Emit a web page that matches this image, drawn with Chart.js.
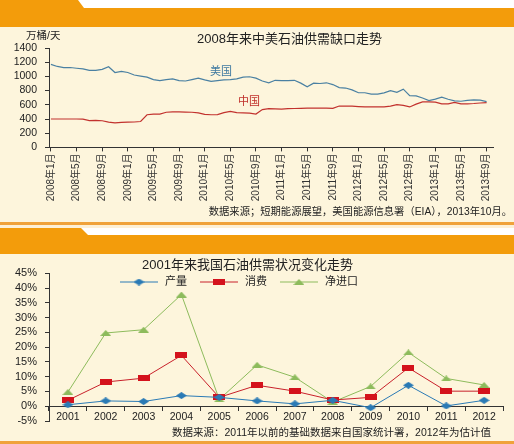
<!DOCTYPE html>
<html><head><meta charset="utf-8">
<script src="https://cdn.jsdelivr.net/npm/chart.js@4.4.0/dist/chart.umd.min.js"></script>
<style>
html,body{margin:0;padding:0;}
body{width:514px;height:444px;background:#fdf5dc;position:relative;overflow:hidden;font-family:"Liberation Sans","Noto Sans CJK SC",sans-serif;color:#222;}
.abs{position:absolute;}
.or{background:#f39c0b;}
.t{position:absolute;white-space:nowrap;line-height:1;}
</style></head><body>
<div class="abs" style="left:0;top:0;width:514px;height:8px;background:#fff"></div>
<div class="abs or" style="left:0;top:0;width:84px;height:8px;clip-path:polygon(0 0,78px 0,84px 8px,0 8px)"></div>
<div class="abs or" style="left:0;top:8px;width:514px;height:19px"></div>

<div class="abs or" style="left:0;top:222px;width:514px;height:3px;background:#f0a23a"></div>
<div class="abs" style="left:0;top:225px;width:514px;height:3px;background:#fdf0d6"></div>
<div class="abs" style="left:0;top:228px;width:514px;height:7px;background:#fff"></div>
<div class="abs or" style="left:0;top:228px;width:88px;height:7px;clip-path:polygon(0 0,81px 0,88px 7px,0 7px)"></div>
<div class="abs or" style="left:0;top:235px;width:514px;height:19px"></div>
<div class="abs" style="left:0;top:441px;width:514px;height:3px;background:#f0a23a"></div>

<div class="abs" style="left:0;top:27px;width:514px;height:195px"><canvas id="c1"></canvas></div>
<div class="abs" style="left:0;top:254px;width:514px;height:187px"><canvas id="c2"></canvas></div>

<div class="t" style="left:197px;top:32px;font-size:13px;">2008年来中美石油供需缺口走势</div>
<div class="t" style="left:26px;top:30px;font-size:10.5px;">万桶/天</div>
<div class="t" style="left:210px;top:66px;font-size:11px;color:#3f79a0;">美国</div>
<div class="t" style="left:238px;top:96px;font-size:11px;color:#c0302c;">中国</div>
<div class="t" style="right:2px;top:207px;font-size:10.3px;">数据来源；短期能源展望，美国能源信息署（EIA），2013年10月。</div>

<div class="t" style="left:142px;top:258px;font-size:13px;">2001年来我国石油供需状况变化走势</div>
<div class="t" style="left:172px;top:427px;font-size:10.5px;">数据来源：2011年以前的基础数据来自国家统计署，2012年为估计值</div>

<script>
// ---- Chart 1 data (monthly, 2008-01 .. 2013-09), 万桶/天
const monthTickLabels = ['2008年1月','2008年5月','2008年9月','2009年1月','2009年5月','2009年9月','2010年1月','2010年5月','2010年9月','2011年1月','2011年5月','2011年9月','2012年1月','2012年5月','2012年9月','2013年1月','2013年5月','2013年9月'];
const usGap = [1170,1140,1125,1125,1115,1105,1085,1085,1100,1135,1055,1070,1055,1020,1005,990,955,940,955,965,940,935,955,975,950,930,940,950,955,965,990,995,975,935,910,945,940,940,945,905,855,905,900,910,885,842,836,810,770,770,750,750,768,800,775,820,730,725,695,660,680,708,678,655,650,663,670,665,645];
const cnGap = [400,400,400,400,400,398,378,380,375,355,345,352,356,358,365,460,470,470,495,500,500,498,495,485,465,460,462,490,508,490,487,482,470,532,545,543,540,545,548,550,552,554,555,552,550,583,582,580,575,571,570,570,572,582,603,592,570,610,640,640,637,612,614,635,612,614,618,625,632];

// ---- Chart 2 data (annual growth, %)
const years = ['2001','2002','2003','2004','2005','2006','2007','2008','2009','2010','2011','2012'];
const production = [0.5,1.8,1.6,3.6,3.0,1.8,0.8,2.0,-0.5,7.1,0.1,2.0];
const consumption = [2.0,8.2,9.5,17.2,3.0,7.1,5.1,2.1,3.0,13.0,5.1,5.1];
const netImport = [4.8,24.8,25.9,37.8,2.3,14.0,9.8,1.4,6.7,18.2,9.4,7.2];
const seriesNames = ['产量','消费','净进口'];

const FONT = '"Liberation Sans","Noto Sans CJK SC",sans-serif';
Chart.defaults.font.family = FONT;
Chart.defaults.color = '#222';
Chart.defaults.animation = false;

const c1 = document.getElementById('c1');
new Chart(c1, {
  type: 'line',
  data: {
    datasets: [
      {data: usGap.map((v,i)=>({x:i,y:v})), borderColor:'#4a80a2', borderWidth:1.2, pointRadius:0, tension:0},
      {data: cnGap.map((v,i)=>({x:i,y:v})), borderColor:'#c2322e', borderWidth:1.2, pointRadius:0, tension:0}
    ]
  },
  options: {
    responsive:true, maintainAspectRatio:false,
    layout:{padding:{top:21,right:21,left:0,bottom:0}},
    plugins:{legend:{display:false},tooltip:{enabled:false}},
    scales:{
      x:{type:'linear', min:-0.3, max:69,
        afterBuildTicks:(s)=>{ s.ticks = monthTickLabels.map((l,i)=>({value:i*4})); },
        afterFit:(s)=>{ s.height = 74.6; },
        ticks:{autoSkip:false, minRotation:90, maxRotation:90, padding:2, font:{size:10}, color:'#333',
          callback:(v)=> monthTickLabels[Math.round(v/4)]},
        grid:{drawOnChartArea:false, tickLength:4, color:'#333'},
        border:{color:'#333', width:1}
      },
      y:{min:0, max:1400,
        afterFit:(s)=>{ s.width = 49; },
        ticks:{stepSize:200, autoSkip:false, padding:8, font:{size:10.5}, color:'#222', callback:(v)=>String(v)},
        grid:{drawOnChartArea:false, tickLength:4, color:'#333'},
        border:{color:'#333', width:1}
      }
    }
  }
});

function mk(w,h,draw){const c=document.createElement('canvas');c.width=w;c.height=h;const x=c.getContext('2d');draw(x);return c;}
const diamond = mk(11,7,x=>{x.fillStyle='#2a7ab5';x.beginPath();x.moveTo(5.5,0);x.lineTo(11,3.5);x.lineTo(5.5,7);x.lineTo(0,3.5);x.closePath();x.fill();});
const rectM = mk(12,6,x=>{x.fillStyle='#d4121c';x.fillRect(0,0,12,6);});
const tri = mk(11,6,x=>{x.fillStyle='#8dbb5c';x.beginPath();x.moveTo(5.5,0);x.lineTo(11,6);x.lineTo(0,6);x.closePath();x.fill();});

const legendPlugin = {
  id:'lineLegend',
  afterDraw(chart){
    const ctx = chart.ctx;
    ctx.save();
    ctx.font = '11px ' + FONT;
    ctx.textBaseline = 'middle';
    let x = 120; const y = 28;
    chart.data.datasets.forEach(ds=>{
      ctx.strokeStyle = ds.borderColor; ctx.lineWidth = 1;
      ctx.beginPath(); ctx.moveTo(x,y); ctx.lineTo(x+38,y); ctx.stroke();
      const img = ds.pointStyle;
      ctx.drawImage(img, x+19-img.width/2, y-img.height/2);
      ctx.fillStyle = '#222';
      ctx.fillText(ds.label, x+45, y);
      x += 45 + ctx.measureText(ds.label).width + 13;
    });
    ctx.restore();
  }
};

const c2 = document.getElementById('c2');
new Chart(c2, {
  type:'line',
  data:{
    labels: years,
    datasets:[
      {label:seriesNames[0], data:production, borderColor:'#2a7ab5', borderWidth:1, pointStyle:diamond, tension:0},
      {label:seriesNames[1], data:consumption, borderColor:'#c8202a', borderWidth:1, pointStyle:rectM, tension:0},
      {label:seriesNames[2], data:netImport, borderColor:'#8dbb5c', borderWidth:1, pointStyle:tri, tension:0}
    ]
  },
  options:{
    responsive:true, maintainAspectRatio:false,
    layout:{padding:{top:19.3,right:11,left:0,bottom:20}},
    plugins:{legend:{display:false},tooltip:{enabled:false}},
    scales:{
      x:{type:'category', offset:true, position:{y:0},
        ticks:{autoSkip:false, maxRotation:0, padding:1, font:{size:10.5}, color:'#222'},
        grid:{drawOnChartArea:false, offset:true, tickLength:4, color:'#333'},
        border:{color:'#333', width:1}
      },
      y:{min:-5, max:45,
        afterFit:(s)=>{ s.width = 49; },
        ticks:{stepSize:5, autoSkip:false, padding:8, font:{size:11}, color:'#222', callback:(v)=>v+'%'},
        grid:{drawOnChartArea:false, tickLength:4, color:'#333'},
        border:{color:'#333', width:1}
      }
    }
  },
  plugins:[legendPlugin]
});
</script>
</body></html>
